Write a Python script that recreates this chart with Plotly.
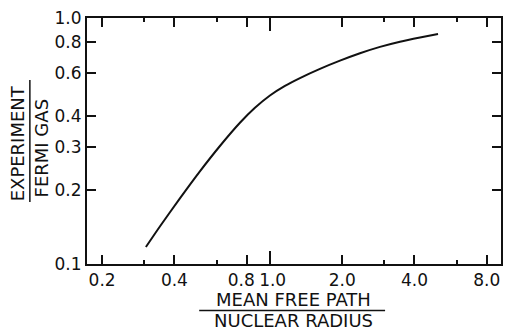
import plotly.graph_objects as go
import math

# Data (log-log curve)
ratio_x = [0.3043, 0.3480, 0.4217, 0.5108, 0.6190, 0.7499, 0.8660, 1.0, 1.1548, 1.3335,
           1.6156, 1.9575, 2.3714, 2.8730, 3.4807, 4.2170, 5.0119]
ratio_y = [0.1172, 0.1420, 0.1848, 0.2380, 0.3018, 0.3751, 0.4316, 0.4843, 0.5298, 0.5700,
           0.6213, 0.6709, 0.7191, 0.7634, 0.8013, 0.8334, 0.8605]

x_tick_vals = [0.2, 0.4, 0.8, 1.0, 2.0, 4.0, 8.0]
x_tick_text = ["0.2", "0.4", "0.8\u00a0\u00a0", "\u00a01.0", "2.0", "4.0", "8.0"]
x_minor_vals = [0.3, 0.6, 3.0, 6.0]
x_long_vals = [1.0]
y_tick_vals = [0.1, 0.2, 0.3, 0.4, 0.6, 0.8, 1.0]
y_tick_text = ["0.1", "0.2", "0.3", "0.4", "0.6", "0.8", "1.0"]

FONT = "DejaVu Sans"
INK = "#111111"

fig = go.Figure()
fig.add_trace(go.Scatter(x=ratio_x, y=ratio_y, mode="lines",
                         line=dict(color=INK, width=2, shape="spline", smoothing=0.6),
                         hoverinfo="skip", showlegend=False))
# invisible trace to activate the overlay axis for the long 1.0 tick
fig.add_trace(go.Scatter(x=[1.0], y=[0.5], xaxis="x2", mode="markers",
                         marker=dict(opacity=0), hoverinfo="skip", showlegend=False))

xr = [math.log10(0.173), math.log10(9.17)]
fig.update_layout(
    width=505, height=330,
    margin=dict(l=87, r=4, t=18, b=66),
    paper_bgcolor="white", plot_bgcolor="white",
    font=dict(family=FONT, color=INK, size=17),
    xaxis=dict(type="log", range=xr, tickmode="array", tickvals=x_tick_vals,
               ticktext=x_tick_text, ticks="inside", ticklen=9, tickwidth=1.5,
               tickcolor=INK, showline=True, linecolor=INK, linewidth=2,
               mirror="ticks", showgrid=False, zeroline=False, tickangle=0,
               tickfont=dict(size=17), automargin=False,
               minor=dict(tickmode="array", tickvals=x_minor_vals, ticks="inside",
                          ticklen=4, tickwidth=1.5, tickcolor=INK, showgrid=False)),
    xaxis2=dict(type="log", range=xr, overlaying="x", tickmode="array",
                tickvals=x_long_vals, ticks="inside", ticklen=13, tickwidth=1.5,
                tickcolor=INK, showticklabels=False, mirror="ticks",
                showline=False, showgrid=False, zeroline=False, side="bottom"),
    yaxis=dict(type="log", range=[-1, 0], tickmode="array", tickvals=y_tick_vals,
               ticktext=y_tick_text, ticks="inside", ticklen=9, tickwidth=1.5,
               tickcolor=INK, showline=True, linecolor=INK, linewidth=2,
               mirror="ticks", showgrid=False, zeroline=False, automargin=False,
               tickfont=dict(size=17)),
)

# Axis titles as fractions
fig.add_annotation(text="MEAN FREE PATH", xref="paper", yref="paper", x=0.498, y=-0.145,
                   showarrow=False, font=dict(size=18), xanchor="center", yanchor="middle")
fig.add_annotation(text="NUCLEAR RADIUS", xref="paper", yref="paper", x=0.498, y=-0.228,
                   showarrow=False, font=dict(size=18), xanchor="center", yanchor="middle")
fig.add_shape(type="line", xref="paper", yref="paper", x0=0.271, x1=0.720, y0=-0.189, y1=-0.189,
              line=dict(color=INK, width=1.5))

fig.add_annotation(text="EXPERIMENT", xref="paper", yref="paper", x=-0.167, y=0.49,
                   showarrow=False, textangle=-90, font=dict(size=18),
                   xanchor="center", yanchor="middle")
fig.add_annotation(text="FERMI GAS", xref="paper", yref="paper", x=-0.111, y=0.47,
                   showarrow=False, textangle=-90, font=dict(size=18),
                   xanchor="center", yanchor="middle")
fig.add_shape(type="line", xref="paper", yref="paper", x0=-0.138, x1=-0.138, y0=0.252, y1=0.748,
              line=dict(color=INK, width=1.5))

fig.write_html("out.html")
